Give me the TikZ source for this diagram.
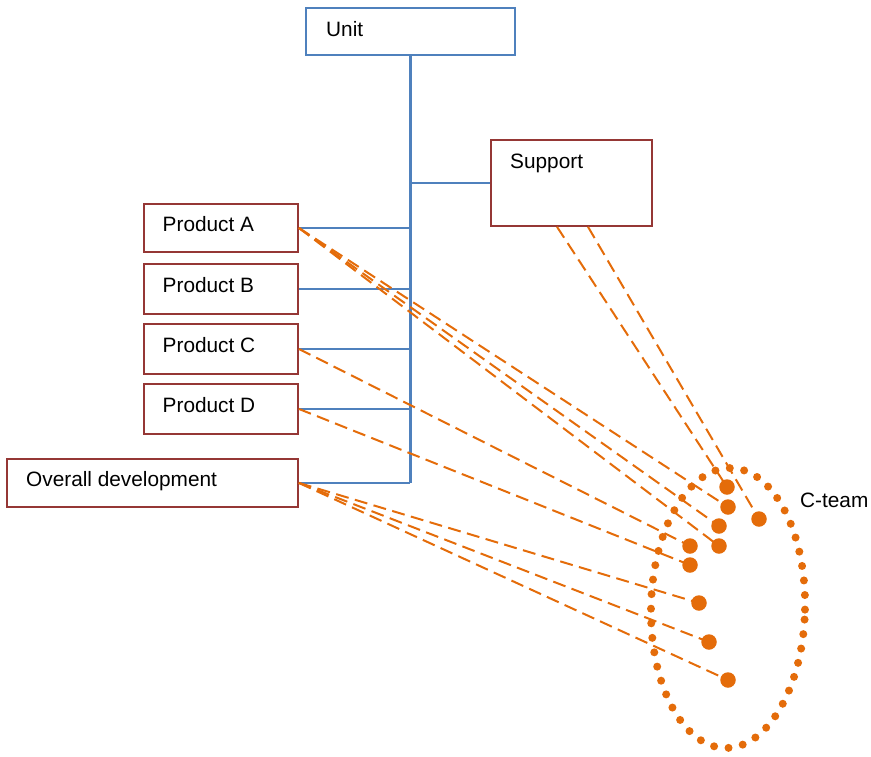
\documentclass[tikz,border=0pt]{standalone}
\usepackage{fontspec}
\setmainfont{Liberation Sans}
\usetikzlibrary{calc}
\definecolor{bblue}{HTML}{4F81BD}
\definecolor{bred}{HTML}{953735}
\definecolor{orng}{HTML}{E46C0A}
\begin{document}
\begin{tikzpicture}[x=1pt,y=-1pt,
  box/.style={draw=bred,line width=1.8pt,rectangle,inner sep=0pt,anchor=north west},
  ubox/.style={draw=bblue,line width=1.8pt,rectangle,inner sep=0pt,anchor=north west},
  txt/.style={anchor=base west,inner sep=0pt,font=\fontsize{20.8}{24}\selectfont},
  trunk/.style={draw=bblue,line width=2.4pt},
  branch/.style={draw=bblue,line width=2pt},
  link/.style={draw=orng,line width=2pt,dash pattern=on 13pt off 6.5pt},
  member/.style={circle,fill=orng,inner sep=0pt,minimum size=15.5pt},
  ring/.style={draw=orng,line width=8pt,line cap=round,dash pattern=on 0pt off 14.6pt}]
\useasboundingbox (0,0) rectangle (871,756);
% boxes
\node[ubox,minimum width=209pt,minimum height=47pt] (unit) at (305,7) {};
\node[box,minimum width=161pt,minimum height=86pt] (sup) at (490,139) {};
\node[box,minimum width=154pt,minimum height=48pt] (pa) at (143,203) {};
\node[box,minimum width=154pt,minimum height=50pt] (pb) at (143,263) {};
\node[box,minimum width=154pt,minimum height=50pt] (pc) at (143,323) {};
\node[box,minimum width=154pt,minimum height=50pt] (pd) at (143,383) {};
\node[box,minimum width=291pt,minimum height=48pt] (od) at (6,458) {};
% texts
\node[txt] (unitt) at (326,36) {Unit};
\node[txt] (supt) at (510,168) {Support};
\node[txt] (pat) at (162.5,231) {Product A};
\node[txt] (pbt) at (162.5,292) {Product B};
\node[txt] (pct) at (162.5,352) {Product C};
\node[txt] (pdt) at (162.5,412) {Product D};
\node[txt] (odt) at (26,486) {Overall development};
\node[txt] (ct) at (800,507) {C-team};
% blue tree
\coordinate (bottom) at (od.east -| unit.south);
\draw[trunk] (unit.south) -- (bottom);
\draw[branch] (sup.west) -- (sup.west -| unit.south);
\draw[branch] (pa.east) -- (pa.east -| unit.south);
\draw[branch] (pb.east) -- (pb.east -| unit.south);
\draw[branch] (pc.east) -- (pc.east -| unit.south);
\draw[branch] (pd.east) -- (pd.east -| unit.south);
\draw[branch] (od.east) -- (bottom);
% dotted ellipse
\draw[ring,rotate around={-1.2:(728,608)}] (728,608) ellipse [x radius=77pt, y radius=140pt];
% member dots
\coordinate (d1) at (727,487);
\coordinate (d2) at (728,507);
\coordinate (d3) at (759,519);
\coordinate (d4) at (719,526);
\coordinate (d5) at (719,546);
\coordinate (d6) at (690,546);
\coordinate (d7) at (690,565);
\coordinate (d8) at (699,603);
\coordinate (d9) at (709,642);
\coordinate (d10) at (728,680);
\coordinate (s1) at ($(sup.south west)+(67,0)$);
\coordinate (s2) at ($(sup.south west)+(98,0)$);
% links
\draw[link] (s1) -- (d1);
\draw[link] (s2) -- (d3);
\draw[link] (pa.east) -- (d2);
\draw[link] (pa.east) -- (d4);
\draw[link] (pa.east) -- (d5);
\draw[link] (pc.east) -- (d6);
\draw[link] (pd.east) -- (d7);
\draw[link] (od.east) -- (d8);
\draw[link] (od.east) -- (d9);
\draw[link] (od.east) -- (d10);
\foreach \i in {1,...,10} \node[member] (m\i) at (d\i) {};
\end{tikzpicture}
\end{document}
